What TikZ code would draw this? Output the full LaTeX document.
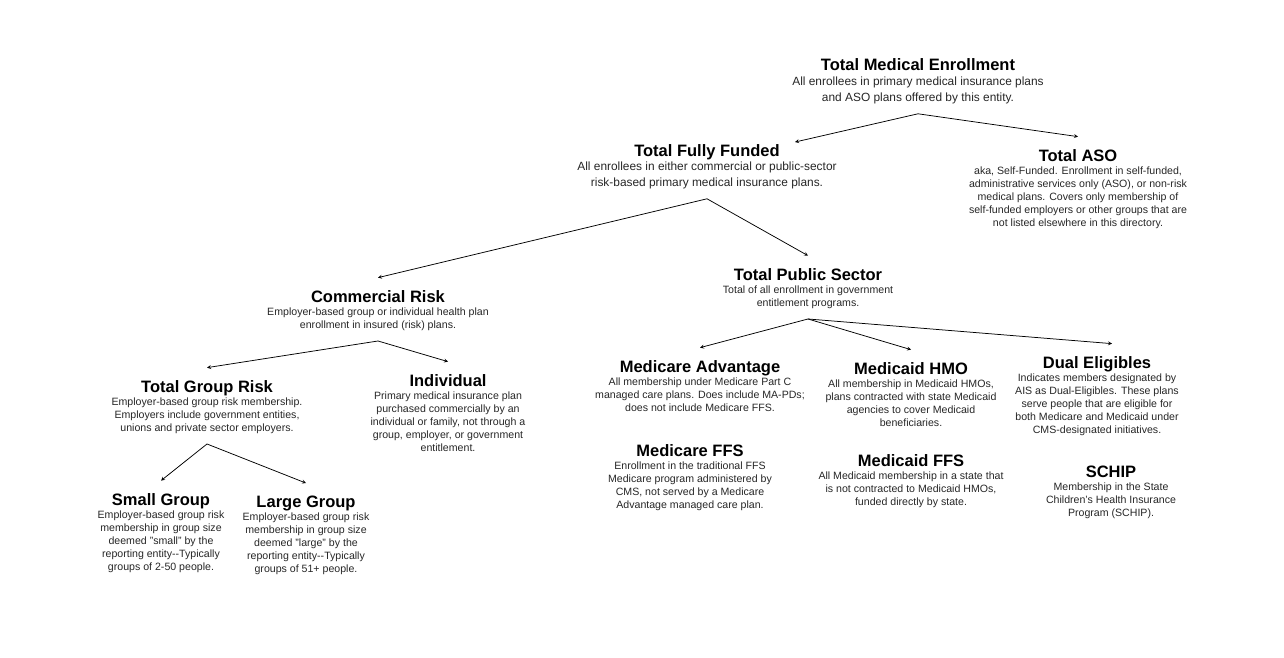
\documentclass[tikz,border=0pt]{standalone}
\usepackage{fontspec}
\setmainfont{Liberation Sans}
\usetikzlibrary{positioning}
\tikzset{>=stealth}
\tikzset{
  heading/.style={font=\fontsize{16.5}{18}\selectfont\bfseries,
    inner sep=0pt, outer ysep=12.4pt, anchor=base},
  blurb/.style={font=\fontsize{10.6}{13}\selectfont, align=center,
    inner sep=0pt, outer ysep=10pt, text=black!85},
  bigblurb/.style={blurb, font=\fontsize{11.9}{16}\selectfont},
}

\begin{document}
\begin{tikzpicture}[x=1pt,y=-1pt,line width=0.75pt]
      \useasboundingbox (0,0) rectangle (1284,658);

      % top level
      \node [heading] (tme) at (918,71) {Total Medical Enrollment};
      \node [bigblurb, below=-4.3pt of tme.base] (tme-d)
        {All enrollees in primary medical insurance plans\\and ASO plans offered by this entity.};

      \node [heading] (tff) at (707,156) {Total Fully Funded};
      \node [bigblurb, below=-4.3pt of tff.base] (tff-d)
        {All enrollees in either commercial or public-sector\\risk-based primary medical insurance plans.};

      \node [heading] (aso) at (1078,161) {Total ASO};
      \node [blurb, below=-3.9pt of aso.base] (aso-d)
        {aka, Self-Funded. Enrollment in self-funded,\\administrative services only (ASO), or non-risk\\medical plans. Covers only membership of\\self-funded employers or other groups that are\\not listed elsewhere in this directory.};

      % commercial side
      \node [heading] (com) at (378,302) {Commercial Risk};
      \node [blurb, below=-3.9pt of com.base] (com-d)
        {Employer-based group or individual health plan\\enrollment in insured (risk) plans.};

      \node [heading] (grp) at (207,392) {Total Group Risk};
      \node [blurb, below=-3.9pt of grp.base] (grp-d)
        {Employer-based group risk membership.\\Employers include government entities,\\unions and private sector employers.};

      \node [heading] (ind) at (448,386) {Individual};
      \node [blurb, below=-3.9pt of ind.base] (ind-d)
        {Primary medical insurance plan\\purchased commercially by an\\individual or family, not through a\\group, employer, or government\\entitlement.};

      \node [heading] (small) at (161,505) {Small Group};
      \node [blurb, below=-3.9pt of small.base] (small-d)
        {Employer-based group risk\\membership in group size\\deemed "small" by the\\reporting entity-{}-Typically\\groups of 2-50 people.};

      \node [heading] (large) at (306,507) {Large Group};
      \node [blurb, below=-3.9pt of large.base] (large-d)
        {Employer-based group risk\\membership in group size\\deemed "large" by the\\reporting entity-{}-Typically\\groups of 51+ people.};

      % public side
      \node [heading] (tps) at (808,280) {Total Public Sector};
      \node [blurb, below=-3.9pt of tps.base] (tps-d)
        {Total of all enrollment in government\\entitlement programs.};

      \node [heading] (ma) at (700,372) {Medicare Advantage};
      \node [blurb, below=-3.9pt of ma.base] (ma-d)
        {All membership under Medicare Part C\\managed care plans. Does include MA-PDs;\\does not include Medicare FFS.};

      \node [heading] (mffs) at (690,456) {Medicare FFS};
      \node [blurb, below=-3.9pt of mffs.base] (mffs-d)
        {Enrollment in the traditional FFS\\Medicare program administered by\\CMS, not served by a Medicare\\Advantage managed care plan.};

      \node [heading] (hmo) at (911,374) {Medicaid HMO};
      \node [blurb, below=-3.9pt of hmo.base] (hmo-d)
        {All membership in Medicaid HMOs,\\plans contracted with state Medicaid\\agencies to cover Medicaid\\beneficiaries.};

      \node [heading] (cffs) at (911,466) {Medicaid FFS};
      \node [blurb, below=-3.9pt of cffs.base] (cffs-d)
        {All Medicaid membership in a state that\\is not contracted to Medicaid HMOs,\\funded directly by state.};

      \node [heading] (dual) at (1097,368) {Dual Eligibles};
      \node [blurb, below=-3.9pt of dual.base] (dual-d)
        {Indicates members designated by\\AIS as Dual-Eligibles. These plans\\serve people that are eligible for\\both Medicare and Medicaid under\\CMS-designated initiatives.};

      \node [heading] (schip) at (1111,477) {SCHIP};
      \node [blurb, below=-3.9pt of schip.base] (schip-d)
        {Membership in the State\\Children's Health Insurance\\Program (SCHIP).};

      \draw[->] (tme-d.south) -- ([xshift=88pt,yshift=-10.4pt]tff.north);
      \draw[->] (tme-d.south) -- (aso.north);
      \draw[->] (tff-d.south) -- (com.north);
      \draw[->] (tff-d.south) -- (tps.north);
      \draw[->] (com-d.south) -- (grp.north);
      \draw[->] (com-d.south) -- (ind.north);
      \draw[->] (grp-d.south) -- (small.north);
      \draw[->] (grp-d.south) -- (large.north);
      \draw[->] (tps-d.south) -- (ma.north);
      \draw[->] (tps-d.south) -- (hmo.north);
      \draw[->] (tps-d.south) -- ([xshift=15pt]dual.north);
    \end{tikzpicture}
\end{document}
